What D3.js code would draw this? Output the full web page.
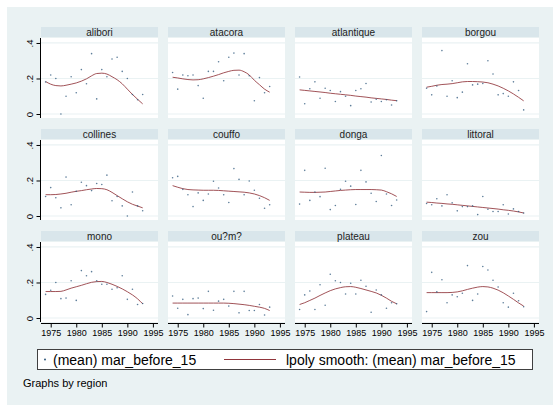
<!DOCTYPE html>
<html>
<head>
<meta charset="utf-8">
<script src="https://cdn.jsdelivr.net/npm/d3@7"></script>
<style>
  html, body { margin: 0; padding: 0; background: #ffffff; }
  svg { display: block; font-family: Arial, "Liberation Sans", sans-serif; }
</style>
</head>
<body>
<svg id="chart" width="553" height="405"></svg>
<script>
// Years of observation (x axis)
const years = [1974, 1975, 1976, 1977, 1978, 1979, 1980, 1981, 1982, 1983,
               1984, 1985, 1986, 1987, 1988, 1989, 1990, 1991, 1992, 1993];

// Panel order (row by row)
const regionNames = ["alibori", "atacora", "atlantique", "borgou",
                     "collines", "couffo", "donga", "littoral",
                     "mono", "ou?m?", "plateau", "zou"];

// (mean) mar_before_15 by year
const aliboriMean    = [0.18, 0.22, 0.20, 0.00, 0.10, 0.21, 0.12, 0.25, 0.17, 0.34, 0.085, 0.25, 0.21, 0.31, 0.32, 0.24, 0.20, 0.11, 0.08, 0.11];
const atacoraMean    = [0.234, 0.14, 0.22, 0.215, 0.22, 0.16, 0.089, 0.24, 0.24, 0.294, 0.187, 0.32, 0.343, 0.22, 0.34, 0.215, 0.075, 0.205, 0.12, 0.155];
const atlantiqueMean = [0.208, 0.058, 0.142, 0.181, 0.089, 0.145, 0.132, 0.07, 0.126, 0.10, 0.047, 0.132, 0.142, 0.172, 0.068, 0.083, 0.07, 0.08, 0.051, 0.075];
const borgouMean     = [0.145, 0.108, 0.158, 0.357, 0.10, 0.187, 0.092, 0.123, 0.283, 0.164, 0.168, 0.172, 0.30, 0.225, 0.108, 0.115, 0.10, 0.181, 0.132, 0.023];
const collinesMean   = [0.11, 0.16, 0.103, 0.046, 0.219, 0.063, 0.139, 0.19, 0.171, 0.143, 0.183, 0.177, 0.23, 0.086, 0.11, 0.057, 0.0, 0.135, 0.057, 0.03];
const couffoMean     = [0.215, 0.223, 0.15, 0.12, 0.053, 0.13, 0.088, 0.124, 0.196, 0.158, 0.12, 0.076, 0.267, 0.206, 0.12, 0.197, 0.145, 0.10, 0.044, 0.063];
const dongaMean      = [0.067, 0.257, 0.088, 0.135, 0.109, 0.269, 0.036, 0.059, 0.15, 0.196, 0.168, 0.065, 0.257, 0.192, 0.128, 0.082, 0.341, 0.124, 0.059, 0.09];
const littoralMean   = [0.07, 0.063, 0.097, 0.057, 0.12, 0.074, 0.029, 0.053, 0.053, 0.057, 0.008, 0.11, 0.038, 0.025, 0.025, 0.063, 0.011, 0.04, 0.025, 0.017];
const monoMean       = [0.133, 0.156, 0.20, 0.109, 0.112, 0.21, 0.099, 0.267, 0.238, 0.261, 0.21, 0.19, 0.19, 0.162, 0.17, 0.238, 0.105, 0.162, 0.076, 0.082];
const ouemeMean      = [0.124, 0.055, 0.105, 0.019, 0.109, 0.112, 0.053, 0.15, 0.044, 0.095, 0.105, 0.067, 0.15, 0.029, 0.15, 0.042, 0.042, 0.076, 0.017, 0.061];
const plateauMean    = [0.048, 0.13, 0.152, 0.048, 0.187, 0.072, 0.246, 0.21, 0.20, 0.135, 0.196, 0.135, 0.213, 0.179, 0.032, 0.158, 0.13, 0.055, 0.086, 0.08];
const zouMean        = [0.036, 0.257, 0.147, 0.215, 0.086, 0.13, 0.12, 0.139, 0.295, 0.099, 0.135, 0.29, 0.27, 0.213, 0.175, 0.086, 0.061, 0.139, 0.097, 0.063];

// lpoly smooth of (mean) mar_before_15, evaluated at each year
const aliboriSmooth    = [0.183, 0.168, 0.160, 0.158, 0.162, 0.168, 0.175, 0.185, 0.198, 0.215, 0.228, 0.230, 0.225, 0.210, 0.193, 0.170, 0.140, 0.110, 0.083, 0.057];
const atacoraSmooth    = [0.207, 0.203, 0.198, 0.194, 0.192, 0.193, 0.198, 0.205, 0.213, 0.222, 0.232, 0.240, 0.246, 0.247, 0.238, 0.220, 0.190, 0.165, 0.140, 0.123];
const atlantiqueSmooth = [0.136, 0.133, 0.130, 0.127, 0.124, 0.121, 0.117, 0.114, 0.111, 0.108, 0.105, 0.101, 0.098, 0.095, 0.091, 0.088, 0.085, 0.082, 0.078, 0.075];
const borgouSmooth     = [0.151, 0.156, 0.162, 0.166, 0.168, 0.171, 0.176, 0.181, 0.183, 0.183, 0.182, 0.180, 0.176, 0.168, 0.158, 0.145, 0.130, 0.113, 0.094, 0.074];
const collinesSmooth   = [0.120, 0.120, 0.121, 0.124, 0.128, 0.134, 0.139, 0.143, 0.148, 0.152, 0.155, 0.154, 0.148, 0.133, 0.115, 0.097, 0.080, 0.066, 0.056, 0.046];
const couffoSmooth     = [0.171, 0.162, 0.154, 0.149, 0.147, 0.146, 0.145, 0.145, 0.145, 0.144, 0.142, 0.140, 0.138, 0.136, 0.134, 0.130, 0.124, 0.115, 0.103, 0.088];
const dongaSmooth      = [0.135, 0.134, 0.133, 0.133, 0.134, 0.135, 0.138, 0.141, 0.144, 0.146, 0.148, 0.149, 0.149, 0.149, 0.149, 0.148, 0.146, 0.137, 0.125, 0.110];
const littoralSmooth   = [0.078, 0.076, 0.073, 0.071, 0.068, 0.066, 0.063, 0.060, 0.057, 0.054, 0.051, 0.048, 0.045, 0.042, 0.039, 0.035, 0.032, 0.028, 0.023, 0.017];
const monoSmooth       = [0.149, 0.149, 0.149, 0.150, 0.158, 0.168, 0.176, 0.184, 0.193, 0.201, 0.205, 0.206, 0.200, 0.190, 0.178, 0.164, 0.148, 0.130, 0.108, 0.080];
const ouemeSmooth      = [0.084, 0.084, 0.084, 0.084, 0.084, 0.084, 0.084, 0.084, 0.084, 0.084, 0.084, 0.083, 0.081, 0.078, 0.075, 0.071, 0.066, 0.061, 0.054, 0.042];
const plateauSmooth    = [0.076, 0.086, 0.099, 0.112, 0.127, 0.141, 0.154, 0.164, 0.171, 0.176, 0.177, 0.173, 0.166, 0.158, 0.150, 0.141, 0.128, 0.112, 0.094, 0.080];
const zouSmooth        = [0.143, 0.143, 0.143, 0.143, 0.143, 0.144, 0.147, 0.153, 0.161, 0.168, 0.174, 0.177, 0.175, 0.168, 0.157, 0.142, 0.124, 0.105, 0.085, 0.067];

// Axis ticks
const xTicks = [1975, 1980, 1985, 1990, 1995];
const yTicks = [0, 0.2, 0.4];
const yTickLabels = ["0", ".2", ".4"];

const meanSeries   = [aliboriMean, atacoraMean, atlantiqueMean, borgouMean, collinesMean, couffoMean,
                      dongaMean, littoralMean, monoMean, ouemeMean, plateauMean, zouMean];
const smoothSeries = [aliboriSmooth, atacoraSmooth, atlantiqueSmooth, borgouSmooth, collinesSmooth, couffoSmooth,
                      dongaSmooth, littoralSmooth, monoSmooth, ouemeSmooth, plateauSmooth, zouSmooth];

// ---- layout ----
const W = 553, H = 405;
const colX = [41, 168, 295, 422];
const panelW = 117;
const stripTop = [27, 129, 231];
const stripH = 10;
const plotH = 80;

const C = {
  graph: "#eaf2f3",
  strip: "#d9e6eb",
  grid: "#eaf2f3",
  dot: "#1a476f",
  line: "#90353b",
  text: "#000000",
  axis: "#000000"
};

const svg = d3.select("#chart");

// graph region background
svg.append("rect").attr("x", 7).attr("y", 7).attr("width", W - 7).attr("height", H - 7)
   .attr("fill", C.graph);

const x = d3.scaleLinear().domain([1973.1, 1996]);
const y = d3.scaleLinear().domain([-0.0225, 0.428]);

regionNames.forEach((name, i) => {
  const row = Math.floor(i / 4), col = i % 4;
  const x0 = colX[col];
  const sTop = stripTop[row];
  const pTop = sTop + stripH + 1;
  const pBot = pTop + plotH;

  const xs = x.copy().range([x0, x0 + panelW]);
  const ys = y.copy().range([pBot, pTop]);

  const g = svg.append("g").attr("class", "panel");

  // strip with the region name
  g.append("rect").attr("x", x0).attr("y", sTop).attr("width", panelW).attr("height", stripH)
   .attr("fill", C.strip);
  g.append("text").attr("x", x0 + panelW / 2).attr("y", sTop + stripH / 2 + 0.5)
   .attr("text-anchor", "middle").attr("dominant-baseline", "central")
   .attr("font-size", 10).attr("fill", "#222").text(name);

  // plot region
  g.append("rect").attr("x", x0).attr("y", pTop).attr("width", panelW).attr("height", plotH)
   .attr("fill", "#ffffff");

  // horizontal grid lines
  g.selectAll("line.grid").data(yTicks).join("line")
   .attr("class", "grid")
   .attr("x1", x0).attr("x2", x0 + panelW)
   .attr("y1", d => ys(d)).attr("y2", d => ys(d))
   .attr("stroke", C.grid).attr("stroke-width", 1.2);

  // lpoly smooth
  const lineGen = d3.line()
    .x((d, k) => xs(years[k]))
    .y(d => ys(d))
    .curve(d3.curveMonotoneX);
  g.append("path").datum(smoothSeries[i])
   .attr("d", lineGen)
   .attr("fill", "none").attr("stroke", C.line).attr("stroke-width", 1).attr("stroke-opacity", 0.85);

  // mean points
  g.selectAll("circle").data(meanSeries[i]).join("circle")
   .attr("cx", (d, k) => xs(years[k]))
   .attr("cy", d => ys(d))
   .attr("r", 0.8)
   .attr("fill", C.dot).attr("fill-opacity", 0.7);

  // y axis on first column
  if (col === 0) {
    const ax = g.append("g").attr("transform", `translate(${x0 - 0.5},0)`)
      .call(d3.axisLeft(ys).tickValues(yTicks).tickSize(4).tickSizeOuter(0)
        .tickFormat((d, k) => yTickLabels[k]));
    ax.select(".domain").attr("stroke", C.axis).attr("d", `M0,${pTop}V${pBot}`);
    ax.selectAll(".tick line").attr("stroke", C.axis);
    ax.selectAll(".tick text")
      .attr("font-size", 9.5).attr("fill", C.text)
      .attr("x", 0).attr("dy", null)
      .attr("transform", "translate(-8,0) rotate(-90)")
      .attr("text-anchor", "middle").attr("dominant-baseline", "auto");
    ax.attr("font-family", null);
  }

  // x axis on last row
  if (row === 2) {
    const ax = g.append("g").attr("transform", `translate(0,${pBot + 1.5})`)
      .call(d3.axisBottom(xs).tickValues(xTicks).tickSize(4).tickSizeOuter(0)
        .tickFormat(d3.format("d")));
    ax.select(".domain").attr("stroke", C.axis).attr("d", `M${x0},0H${x0 + panelW}`);
    ax.selectAll(".tick line").attr("stroke", C.axis);
    ax.selectAll(".tick text").attr("font-size", 9).attr("fill", C.text).attr("y", 6);
    ax.attr("font-family", null);
  }
});

// legend
const lg = svg.append("g");
lg.append("rect").attr("x", 37.5).attr("y", 349.5).attr("width", 495).attr("height", 20)
  .attr("fill", "#ffffff").attr("stroke", "#404040").attr("stroke-width", 1);
lg.append("circle").attr("cx", 45).attr("cy", 359.5).attr("r", 0.9).attr("fill", C.dot);
lg.append("text").attr("x", 53).attr("y", 364.5).attr("font-size", 14).attr("fill", C.text)
  .text("(mean) mar_before_15");
lg.append("line").attr("x1", 224).attr("x2", 276).attr("y1", 359.5).attr("y2", 359.5)
  .attr("stroke", C.line).attr("stroke-width", 1);
lg.append("text").attr("x", 286).attr("y", 364.5).attr("font-size", 14).attr("fill", C.text)
  .text("lpoly smooth: (mean) mar_before_15");

// note
svg.append("text").attr("x", 23).attr("y", 387).attr("font-size", 11).attr("fill", C.text)
  .text("Graphs by region");
</script>
</body>
</html>
